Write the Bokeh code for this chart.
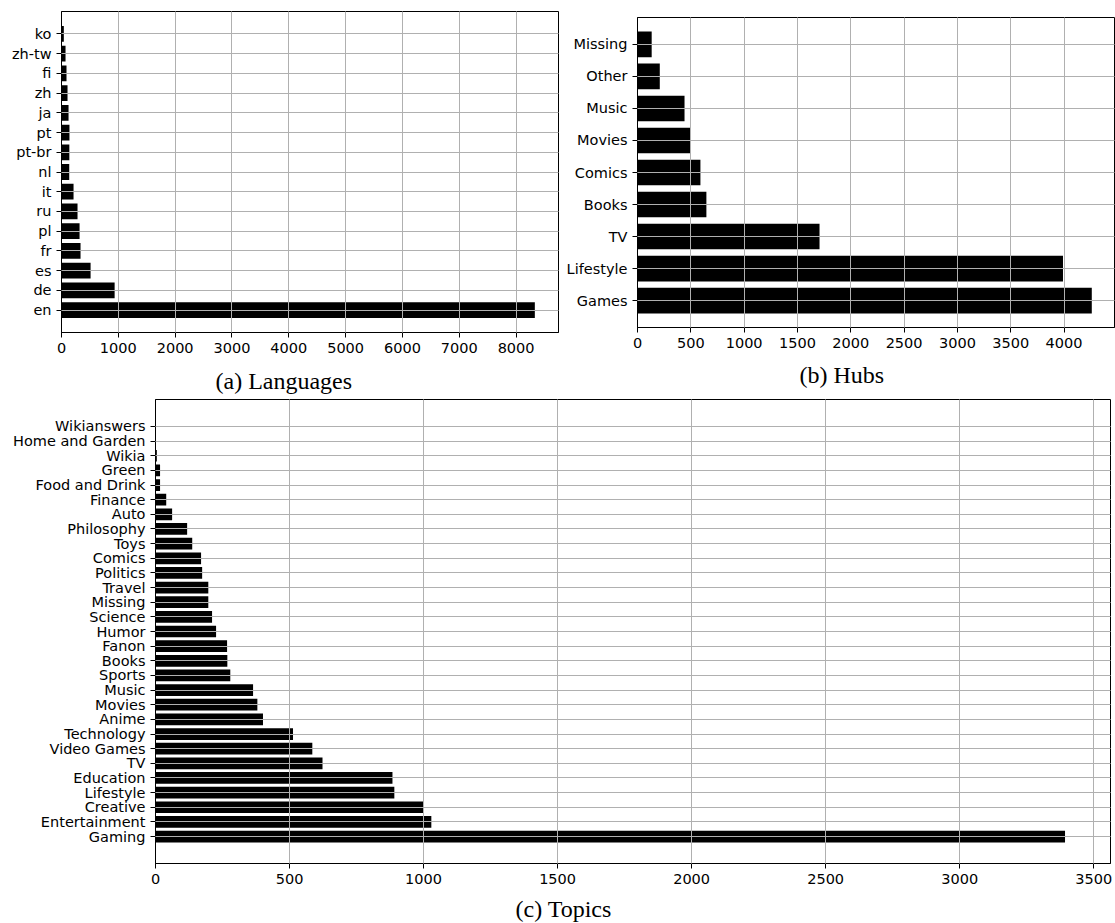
from bokeh.plotting import figure
from bokeh.models import FixedTicker, Range1d, Title
from bokeh.layouts import column, row
from bokeh.embed import file_html
from bokeh.resources import INLINE

# (a) Languages, bottom to top
lang_labels = ["en", "de", "es", "fr", "pl", "ru", "it", "nl", "pt-br", "pt",
               "ja", "zh", "fi", "zh-tw", "ko"]
lang_counts = [8330, 935, 512, 335, 318, 282, 212, 136, 138, 140,
               124, 106, 88, 71, 41]
lang_ticks = [0, 1000, 2000, 3000, 4000, 5000, 6000, 7000, 8000]

# (b) Hubs, bottom to top
hub_labels = ["Games", "Lifestyle", "TV", "Books", "Comics", "Movies",
              "Music", "Other", "Missing"]
hub_counts = [4260, 3990, 1707, 646, 590, 497, 441, 209, 133]
hub_ticks = [0, 500, 1000, 1500, 2000, 2500, 3000, 3500, 4000]

# (c) Topics, bottom to top
topic_labels = ["Gaming", "Entertainment", "Creative", "Lifestyle", "Education",
                "TV", "Video Games", "Technology", "Anime", "Movies", "Music",
                "Sports", "Books", "Fanon", "Humor", "Science", "Missing",
                "Travel", "Politics", "Comics", "Toys", "Philosophy", "Auto",
                "Finance", "Food and Drink", "Green", "Wikia",
                "Home and Garden", "Wikianswers"]
topic_counts = [3393, 1029, 999, 891, 884, 623, 585, 513, 401, 380, 364,
                279, 268, 267, 226, 211, 197, 197, 174, 170, 137, 118, 62,
                40, 17, 17, 5, 1, 1]
topic_ticks = [0, 500, 1000, 1500, 2000, 2500, 3000, 3500]

GRID = "#b0b0b0"
TICK_FONT = "DejaVu Sans"
TICK_SIZE = "14.5px"


def panel(labels, counts, xticks, width, height, borders, caption, cap_offset,
          cap_standoff):
    n = len(labels)
    ys = list(range(n))
    span = n - 0.2
    pad = 0.05 * span
    xmax = max(counts) * 1.05
    p = figure(width=width, height=height, output_backend="svg",
               toolbar_location=None, title=None, frame_align=False,
               x_range=Range1d(0, xmax),
               y_range=Range1d(-0.4 - pad, n - 1 + 0.4 + pad),
               min_border_left=borders[0], min_border_right=borders[1],
               min_border_top=borders[2], min_border_bottom=borders[3])
    p.hbar(y=ys, left=0, right=counts, height=0.8, color="black",
           line_color=None)
    p.xaxis.ticker = FixedTicker(ticks=xticks)
    p.yaxis.ticker = FixedTicker(ticks=ys)
    p.yaxis.major_label_overrides = {i: lab for i, lab in enumerate(labels)}
    for ax in (p.xaxis[0], p.yaxis[0]):
        ax.axis_line_color = "black"
        ax.major_tick_line_color = "black"
        ax.major_tick_out = 5
        ax.major_tick_in = 0
        ax.minor_tick_line_color = None
        ax.major_label_standoff = 5
        ax.major_label_text_font = TICK_FONT
        ax.major_label_text_font_size = TICK_SIZE
        ax.major_label_text_color = "black"
    for g in (p.xgrid[0], p.ygrid[0]):
        g.grid_line_color = GRID
        g.grid_line_width = 1
        g.level = "annotation"
    p.outline_line_color = "black"
    p.outline_line_alpha = 1.0
    p.outline_line_width = 1
    p.background_fill_color = "white"
    p.border_fill_color = "white"
    t = Title(text=caption, align="left", offset=cap_offset,
              text_font="Liberation Serif", text_font_size="24px",
              text_font_style="normal", text_color="black",
              standoff=cap_standoff)
    p.add_layout(t, "below")
    return p


pa = panel(lang_labels, lang_counts, lang_ticks, 560, 410, (61, 2, 11, 78),
           "(a) Languages", 154, 20)
pb = panel(hub_labels, hub_counts, hub_ticks, 555, 410, (77, 1, 17, 83),
           "(b) Hubs", 162, 19)
pc = panel(topic_labels, topic_counts, topic_ticks, 1114, 535, (155, 4, 3, 68),
           "(c) Topics", 360, 15)
pc.margin = (-14, 0, -8, 0)

layout = column(row(pa, pb), pc, styles={"overflow": "hidden"})

open("out.html", "w").write(file_html(layout, INLINE))
